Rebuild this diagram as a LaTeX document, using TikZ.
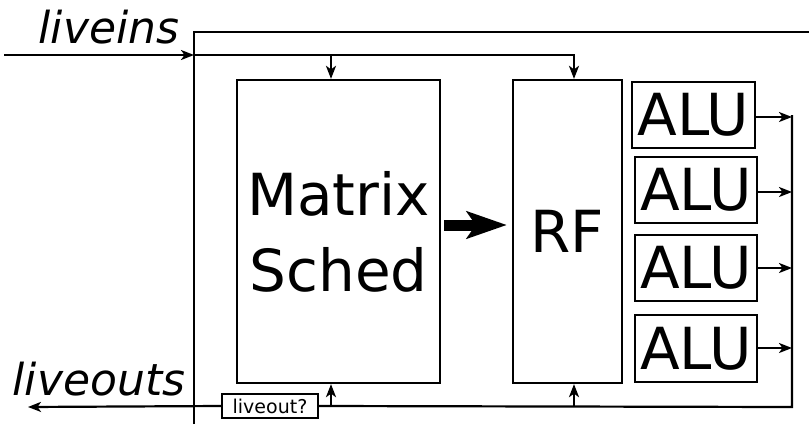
\documentclass[tikz,border=0pt]{standalone}
\usepackage{fontspec}
\setmainfont{DejaVu Sans}
\usetikzlibrary{arrows.meta}
\tikzset{
  box/.style={draw, line width=2.3pt, inner sep=0pt, align=center},
  big/.style={font=\fontsize{58}{76}\selectfont},
  conn/.style={line width=2.2pt},
  arr/.style={conn, -{Stealth[length=13pt,width=10pt,inset=3.5pt]}},
  bigarr/.style={line width=11pt, -{Stealth[length=40pt,width=27pt,inset=9pt]}},
  lbl/.style={font=\fontsize{44}{44}\selectfont\itshape, anchor=base, inner sep=0pt}
}
\begin{document}
\begin{tikzpicture}[x=1pt,y=-1pt]
\useasboundingbox (0,0) rectangle (809,426);
% boxes
\node[box, big, minimum width=203pt, minimum height=303pt] (ms) at (338.5,231.5) {Matrix\\Sched};
\node[box, big, minimum width=109pt, minimum height=303pt] (rf) at (567.5,231.5) {RF};
\node[box, big, minimum width=123pt, minimum height=66pt] (alu1) at (693.5,115) {ALU};
\node[box, big, minimum width=122pt, minimum height=66pt] (alu2) at (696,190) {ALU};
\node[box, big, minimum width=122pt, minimum height=66pt] (alu3) at (696,268) {ALU};
\node[box, big, minimum width=122pt, minimum height=67pt] (alu4) at (696,348.5) {ALU};
\node[box, line width=2.2pt, font=\fontsize{19}{19}\selectfont, minimum width=96pt, minimum height=24pt] (lo) at (270,406) {liveout?};
% labels
\node[lbl] (lin) at (109,43) {liveins};
\node[lbl] (lout) at (99,395) {liveouts};
% coordinates
\coordinate (inS) at (4,55);
\coordinate (fr) at (194,55);
\coordinate (ftop) at (194,32);
\coordinate (fbot) at (194,424);
\coordinate (fright) at (809,32);
\coordinate (jt) at (574,55);
\coordinate (jm) at (331,55);
\coordinate (rtop) at (792,115);
\coordinate (rbot) at (792,407);
\coordinate (outE) at (28,407);
\coordinate (bm) at (331,407);
\coordinate (br) at (574,407);
% frame
\draw[conn] (fbot) -- (ftop) -- (fright);
% liveins
\draw[arr] (inS) -- (fr);
\draw[arr] (fr) -- (jt) -- (jt |- rf.north);
\draw[arr] (jm) -- (jm |- ms.north);
% thick arrow
\draw[bigarr] ([shift={(3,-6.5)}]ms.east) -- ([shift={(-5,-6.5)}]rf.west);
% ALU outputs
\draw[arr] (alu1.east |- 0,117) -- (rtop |- 0,117);
\draw[arr] (alu2.east |- 0,192) -- (rtop |- 0,192);
\draw[arr] (alu3.east |- 0,268) -- (rtop |- 0,268);
\draw[arr] (alu4.east |- 0,348) -- (rtop |- 0,348);
% feedback
\draw[conn] (rtop) -- (rbot) -- (lo.east);
\draw[arr] (lo.west) -- (outE);
\draw[arr] (bm) -- (bm |- ms.south);
\draw[arr] (br) -- (br |- rf.south);
\end{tikzpicture}
\end{document}
